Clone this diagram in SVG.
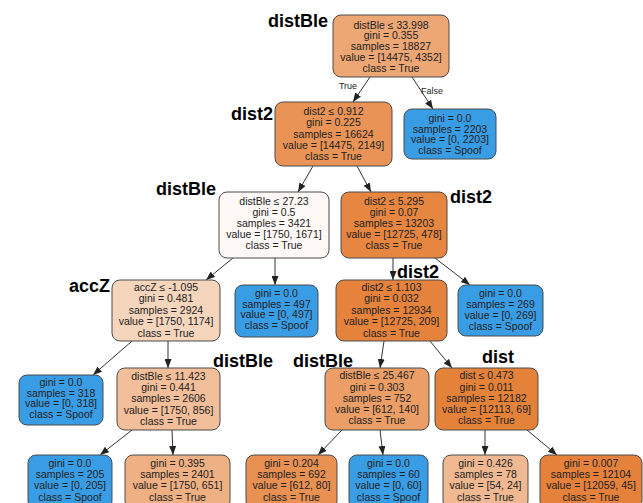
<svg xmlns="http://www.w3.org/2000/svg" width="643" height="503" viewBox="0 0 643 503">
<style>
.nd{stroke:#4a4a4a;stroke-width:1}
.t{font-family:"Liberation Sans",Arial,sans-serif;font-size:10.5px;fill:#222;text-anchor:middle}
.lb{font-family:"Liberation Sans",Arial,sans-serif;font-size:18px;font-weight:bold;fill:#000}
.el{font-family:"Liberation Sans",Arial,sans-serif;font-size:9px;fill:#222;text-anchor:middle}
.e{stroke:#333;stroke-width:1;fill:none;marker-end:url(#ah)}
</style>
<defs>
<marker id="ah" markerUnits="userSpaceOnUse" markerWidth="9" markerHeight="7" refX="9" refY="3.5" orient="auto">
<path d="M0,0 L9,3.5 L0,7 z" fill="#222"/>
</marker>
</defs>
<rect width="643" height="503" fill="#fff"/>
<g id="edges">
<line class="e" x1="370" y1="77" x2="353" y2="102"/>
<line class="e" x1="412" y1="77" x2="433" y2="109"/>
<line class="e" x1="313" y1="166" x2="298" y2="192"/>
<line class="e" x1="357" y1="166" x2="371" y2="192"/>
<line class="e" x1="233" y1="258" x2="206" y2="280"/>
<line class="e" x1="275" y1="258" x2="275" y2="285"/>
<line class="e" x1="393" y1="258" x2="393" y2="280"/>
<line class="e" x1="435" y1="258" x2="470" y2="285"/>
<line class="e" x1="132" y1="341" x2="93" y2="375"/>
<line class="e" x1="168" y1="341" x2="168" y2="368"/>
<line class="e" x1="384" y1="341" x2="380" y2="368"/>
<line class="e" x1="430" y1="341" x2="452" y2="368"/>
<line class="e" x1="132" y1="430" x2="100" y2="455"/>
<line class="e" x1="172" y1="430" x2="173" y2="455"/>
<line class="e" x1="342" y1="430" x2="318" y2="455"/>
<line class="e" x1="380" y1="430" x2="383" y2="455"/>
<line class="e" x1="485" y1="430" x2="485" y2="455"/>
<line class="e" x1="527" y1="430" x2="557" y2="455"/>
<text class="el" x="348" y="89">True</text>
<text class="el" x="432" y="94">False</text>
</g>
<g id="labels">
<text class="lb" x="268" y="27">distBle</text>
<text class="lb" x="231" y="120">dist2</text>
<text class="lb" x="156" y="195">distBle</text>
<text class="lb" x="450" y="203">dist2</text>
<text class="lb" x="69" y="292">accZ</text>
<text class="lb" x="397" y="278">dist2</text>
<text class="lb" x="213" y="367">distBle</text>
<text class="lb" x="293" y="367">distBle</text>
<text class="lb" x="482" y="363">dist</text>
</g>
<g id="n0"><rect class="nd" x="333" y="15" width="116" height="62" rx="8" fill="#eda774"/>
<text class="t" x="391" y="28.5"><tspan x="391">distBle ≤ 33.998</tspan><tspan x="391" dy="10.9">gini = 0.355</tspan><tspan x="391" dy="10.9">samples = 18827</tspan><tspan x="391" dy="10.9">value = [14475, 4352]</tspan><tspan x="391" dy="10.9">class = True</tspan></text></g>
<g id="n1"><rect class="nd" x="275" y="102" width="117" height="64" rx="8" fill="#e99456"/>
<text class="t" x="333.5" y="114.7"><tspan x="333.5">dist2 ≤ 0.912</tspan><tspan x="333.5" dy="11.4">gini = 0.225</tspan><tspan x="333.5" dy="11.4">samples = 16624</tspan><tspan x="333.5" dy="11.4">value = [14475, 2149]</tspan><tspan x="333.5" dy="11.4">class = True</tspan></text></g>
<g id="n2"><rect class="nd" x="404" y="109" width="92" height="50" rx="8" fill="#399de5"/>
<text class="t" x="450" y="121.7"><tspan x="450">gini = 0.0</tspan><tspan x="450" dy="10.8">samples = 2203</tspan><tspan x="450" dy="10.8">value = [0, 2203]</tspan><tspan x="450" dy="10.8">class = Spoof</tspan></text></g>
<g id="n3"><rect class="nd" x="219" y="192" width="110" height="66" rx="8" fill="#fef9f6"/>
<text class="t" x="274" y="204.7"><tspan x="274">distBle ≤ 27.23</tspan><tspan x="274" dy="11">gini = 0.5</tspan><tspan x="274" dy="11">samples = 3421</tspan><tspan x="274" dy="11">value = [1750, 1671]</tspan><tspan x="274" dy="11">class = True</tspan></text></g>
<g id="n4"><rect class="nd" x="341" y="192" width="106" height="66" rx="8" fill="#e68640"/>
<text class="t" x="394" y="204.7"><tspan x="394">dist2 ≤ 5.295</tspan><tspan x="394" dy="11">gini = 0.07</tspan><tspan x="394" dy="11">samples = 13203</tspan><tspan x="394" dy="11">value = [12725, 478]</tspan><tspan x="394" dy="11">class = True</tspan></text></g>
<g id="n5"><rect class="nd" x="112" y="280" width="108" height="61" rx="8" fill="#f6d5bd"/>
<text class="t" x="166" y="290.7"><tspan x="166">accZ ≤ -1.095</tspan><tspan x="166" dy="11.5">gini = 0.481</tspan><tspan x="166" dy="11.5">samples = 2924</tspan><tspan x="166" dy="11.5">value = [1750, 1174]</tspan><tspan x="166" dy="11.5">class = True</tspan></text></g>
<g id="n6"><rect class="nd" x="235" y="285" width="83" height="52" rx="8" fill="#399de5"/>
<text class="t" x="276.5" y="296.7"><tspan x="276.5">gini = 0.0</tspan><tspan x="276.5" dy="10.8">samples = 497</tspan><tspan x="276.5" dy="10.8">value = [0, 497]</tspan><tspan x="276.5" dy="10.8">class = Spoof</tspan></text></g>
<g id="n7"><rect class="nd" x="336" y="280" width="111" height="61" rx="8" fill="#e5833c"/>
<text class="t" x="391.5" y="290.7"><tspan x="391.5">dist2 ≤ 1.103</tspan><tspan x="391.5" dy="11.5">gini = 0.032</tspan><tspan x="391.5" dy="11.5">samples = 12934</tspan><tspan x="391.5" dy="11.5">value = [12725, 209]</tspan><tspan x="391.5" dy="11.5">class = True</tspan></text></g>
<g id="n8"><rect class="nd" x="458" y="285" width="85" height="51" rx="8" fill="#399de5"/>
<text class="t" x="500.5" y="296.7"><tspan x="500.5">gini = 0.0</tspan><tspan x="500.5" dy="11">samples = 269</tspan><tspan x="500.5" dy="11">value = [0, 269]</tspan><tspan x="500.5" dy="11">class = Spoof</tspan></text></g>
<g id="n9"><rect class="nd" x="19" y="375" width="84" height="50" rx="8" fill="#399de5"/>
<text class="t" x="61" y="385.7"><tspan x="61">gini = 0.0</tspan><tspan x="61" dy="10.8">samples = 318</tspan><tspan x="61" dy="10.8">value = [0, 318]</tspan><tspan x="61" dy="10.8">class = Spoof</tspan></text></g>
<g id="n10"><rect class="nd" x="117" y="368" width="103" height="62" rx="8" fill="#f2bf9a"/>
<text class="t" x="168.5" y="379.7"><tspan x="168.5">distBle ≤ 11.423</tspan><tspan x="168.5" dy="11.3">gini = 0.441</tspan><tspan x="168.5" dy="11.3">samples = 2606</tspan><tspan x="168.5" dy="11.3">value = [1750, 856]</tspan><tspan x="168.5" dy="11.3">class = True</tspan></text></g>
<g id="n11"><rect class="nd" x="325" y="368" width="104" height="62" rx="8" fill="#eb9e66"/>
<text class="t" x="377" y="379.2"><tspan x="377">distBle ≤ 25.467</tspan><tspan x="377" dy="11.3">gini = 0.303</tspan><tspan x="377" dy="11.3">samples = 752</tspan><tspan x="377" dy="11.3">value = [612, 140]</tspan><tspan x="377" dy="11.3">class = True</tspan></text></g>
<g id="n12"><rect class="nd" x="435" y="368" width="103" height="62" rx="8" fill="#e5823a"/>
<text class="t" x="486.5" y="379.2"><tspan x="486.5">dist ≤ 0.473</tspan><tspan x="486.5" dy="11.3">gini = 0.011</tspan><tspan x="486.5" dy="11.3">samples = 12182</tspan><tspan x="486.5" dy="11.3">value = [12113, 69]</tspan><tspan x="486.5" dy="11.3">class = True</tspan></text></g>
<g id="n13"><rect class="nd" x="28" y="455" width="84" height="54" rx="8" fill="#399de5"/>
<text class="t" x="70" y="466.7"><tspan x="70">gini = 0.0</tspan><tspan x="70" dy="11.3">samples = 205</tspan><tspan x="70" dy="11.3">value = [0, 205]</tspan><tspan x="70" dy="11.3">class = Spoof</tspan></text></g>
<g id="n14"><rect class="nd" x="125" y="455" width="105" height="54" rx="8" fill="#efb083"/>
<text class="t" x="177.5" y="466.7"><tspan x="177.5">gini = 0.395</tspan><tspan x="177.5" dy="11.3">samples = 2401</tspan><tspan x="177.5" dy="11.3">value = [1750, 651]</tspan><tspan x="177.5" dy="11.3">class = True</tspan></text></g>
<g id="n15"><rect class="nd" x="246" y="455" width="91" height="54" rx="8" fill="#e89153"/>
<text class="t" x="291.5" y="466.7"><tspan x="291.5">gini = 0.204</tspan><tspan x="291.5" dy="11.3">samples = 692</tspan><tspan x="291.5" dy="11.3">value = [612, 80]</tspan><tspan x="291.5" dy="11.3">class = True</tspan></text></g>
<g id="n16"><rect class="nd" x="349" y="455" width="79" height="54" rx="8" fill="#399de5"/>
<text class="t" x="388.5" y="466.7"><tspan x="388.5">gini = 0.0</tspan><tspan x="388.5" dy="11.3">samples = 60</tspan><tspan x="388.5" dy="11.3">value = [0, 60]</tspan><tspan x="388.5" dy="11.3">class = Spoof</tspan></text></g>
<g id="n17"><rect class="nd" x="443" y="455" width="85" height="54" rx="8" fill="#f1b991"/>
<text class="t" x="485.5" y="466.7"><tspan x="485.5">gini = 0.426</tspan><tspan x="485.5" dy="11.3">samples = 78</tspan><tspan x="485.5" dy="11.3">value = [54, 24]</tspan><tspan x="485.5" dy="11.3">class = True</tspan></text></g>
<g id="n18"><rect class="nd" x="540" y="455" width="102" height="54" rx="8" fill="#e5813a"/>
<text class="t" x="591" y="466.7"><tspan x="591">gini = 0.007</tspan><tspan x="591" dy="11.3">samples = 12104</tspan><tspan x="591" dy="11.3">value = [12059, 45]</tspan><tspan x="591" dy="11.3">class = True</tspan></text></g>
</svg>
